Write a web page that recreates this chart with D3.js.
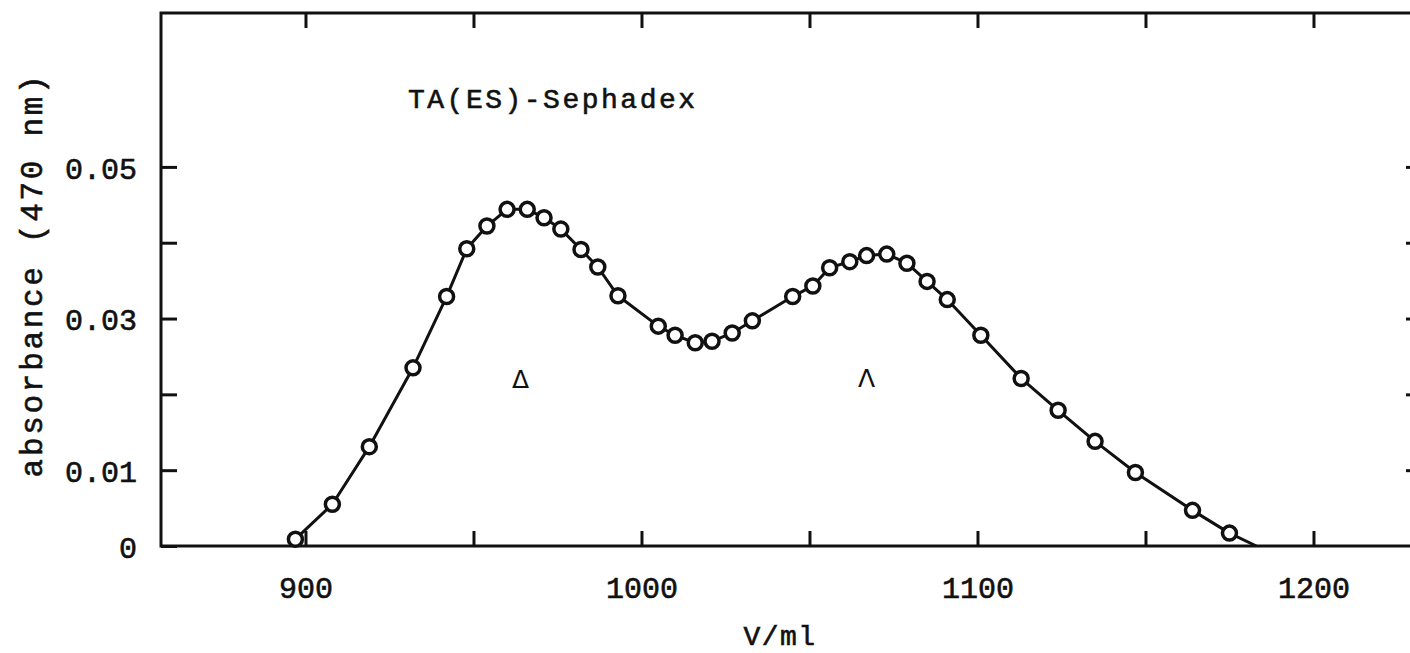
<!DOCTYPE html>
<html>
<head>
<meta charset="utf-8">
<script src="https://cdn.jsdelivr.net/npm/d3@7"></script>
<style>
  body { margin: 0; background: #fff; }
  .tick line { stroke: #111; stroke-width: 3; }
  .tick text { font-family: "Liberation Mono", monospace; font-size: 30px; fill: #111; stroke: #111; stroke-width: 0.6; }
  .label { font-family: "Liberation Mono", monospace; fill: #111; stroke: #111; stroke-width: 0.6; }
</style>
</head>
<body>
<div id="chart"></div>
<script>
// elution volume (ml) of each measured fraction
const volume = [
  897, 908, 919, 932, 942, 948, 954, 960, 966, 971, 976, 982, 987, 993,
  1005, 1010, 1016, 1021, 1027, 1033, 1045, 1051, 1056, 1062, 1067, 1073,
  1079, 1085, 1091, 1101, 1113, 1124, 1135, 1147, 1164, 1175
]
// absorbance at 470 nm
const absorbance = [
  0.0009, 0.0055, 0.0131, 0.0235, 0.0329, 0.0392, 0.0422, 0.0444, 0.0444,
  0.0433, 0.0418, 0.0391, 0.0368, 0.0330, 0.0290, 0.0278, 0.0268, 0.0270,
  0.0281, 0.0297, 0.0329, 0.0343, 0.0367, 0.0375, 0.0383, 0.0385, 0.0373,
  0.0349, 0.0325, 0.0278, 0.0221, 0.0179, 0.0138, 0.0097, 0.0047, 0.0017
]
// the drawn curve runs on to the baseline here
const curveEnd = { v: 1183, a: 0 }

// tick values
const xTicks = [900, 950, 1000, 1050, 1100, 1150, 1200]
const xLabels = [900, 1000, 1100, 1200]
const yTicks = [0, 0.01, 0.02, 0.03, 0.04, 0.05]
const yLabels = [0, 0.01, 0.03, 0.05]

// peak markers
const peakMarks = [
  { v: 964, a: 0.0220, sym: "\u0394" },
  { v: 1067, a: 0.0221, sym: "\u039B" }
]

const width = 1410
const height = 653
const plotLeft = 161
const plotRight = 1421
const plotTop = 13
const plotBottom = 546

const svg = d3
  .select("#chart")
  .append("svg")
  .attr("width", width)
  .attr("height", height)

const xScale = d3.scaleLinear().domain([857, 1232]).range([plotLeft, plotRight])
const yScale = d3.scaleLinear().domain([0, 0.0703]).range([plotBottom, plotTop])

// frame
svg
  .append("rect")
  .attr("x", plotLeft)
  .attr("y", plotTop)
  .attr("width", plotRight - plotLeft)
  .attr("height", plotBottom - plotTop)
  .attr("fill", "none")
  .attr("stroke", "#111")
  .attr("stroke-width", 3)

// bottom axis, ticks pointing in
const xAxis = d3
  .axisBottom(xScale)
  .tickValues(xTicks)
  .tickSizeInner(-15)
  .tickSizeOuter(0)
  .tickPadding(31)
  .tickFormat(function(d) {
    return xLabels.includes(d) ? d : ""
  })
svg
  .append("g")
  .attr("transform", "translate(0," + plotBottom + ")")
  .call(xAxis)
  .call(g => g.select(".domain").remove())

// top axis
svg
  .append("g")
  .attr("transform", "translate(0," + plotTop + ")")
  .call(d3.axisTop(xScale).tickValues(xTicks).tickSizeInner(-15).tickSizeOuter(0).tickFormat(""))
  .call(g => g.select(".domain").remove())

// left axis
const yAxis = d3
  .axisLeft(yScale)
  .tickValues(yTicks)
  .tickSizeInner(-16)
  .tickSizeOuter(0)
  .tickPadding(24)
  .tickFormat(function(d) {
    if (!yLabels.includes(d)) return ""
    return d === 0 ? "0" : d3.format(".2f")(d)
  })
svg
  .append("g")
  .attr("transform", "translate(" + plotLeft + ",0)")
  .call(yAxis)
  .call(g => g.select(".domain").remove())
  .call(g => g.selectAll(".tick text").attr("dy", "0.38em"))

// right axis
svg
  .append("g")
  .attr("transform", "translate(" + plotRight + ",0)")
  .call(d3.axisRight(yScale).tickValues(yTicks.slice(1)).tickSizeInner(-15).tickSizeOuter(0).tickFormat(""))
  .call(g => g.select(".domain").remove())

// axis titles
svg
  .append("text")
  .attr("class", "label")
  .attr("transform", "translate(42,275)rotate(-90)")
  .attr("text-anchor", "middle")
  .attr("font-size", 31)
  .attr("letter-spacing", 2.7)
  .text("absorbance (470 nm)")

svg
  .append("text")
  .attr("class", "label")
  .attr("x", 780)
  .attr("y", 645)
  .attr("text-anchor", "middle")
  .attr("font-size", 28)
  .attr("letter-spacing", 1.5)
  .text("V/ml")

svg
  .append("text")
  .attr("class", "label")
  .attr("x", 408)
  .attr("y", 108)
  .attr("font-size", 28)
  .attr("letter-spacing", 2.5)
  .text("TA(ES)-Sephadex")

// peak symbols
svg
  .selectAll(".peakMark")
  .data(peakMarks)
  .enter()
  .append("text")
  .attr("class", "peakMark")
  .attr("x", d => xScale(d.v))
  .attr("y", d => yScale(d.a) + 9)
  .attr("text-anchor", "middle")
  .attr("font-family", "DejaVu Sans, sans-serif")
  .attr("font-size", 25)
  .attr("fill", "#111")
  .text(d => d.sym)

// data points
const points = volume.map(function(v, i) {
  return { v: v, a: absorbance[i] }
})

const line = d3
  .line()
  .x(d => xScale(d.v))
  .y(d => yScale(d.a))

svg
  .append("path")
  .datum(points.concat([curveEnd]))
  .attr("d", line)
  .attr("fill", "none")
  .attr("stroke", "#111")
  .attr("stroke-width", 3)
  .attr("stroke-linejoin", "round")

svg
  .selectAll(".dot")
  .data(points)
  .enter()
  .append("circle")
  .attr("class", "dot")
  .attr("cx", d => xScale(d.v))
  .attr("cy", d => yScale(d.a))
  .attr("r", 7)
  .attr("fill", "#fff")
  .attr("stroke", "#111")
  .attr("stroke-width", 3.5)
</script>
</body>
</html>
